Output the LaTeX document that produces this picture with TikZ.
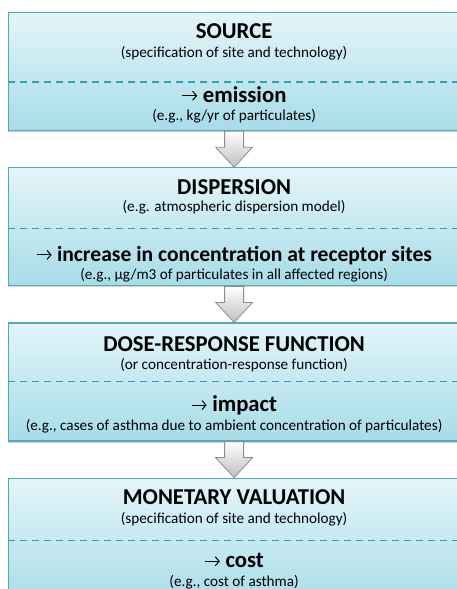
\documentclass[tikz,border=0pt]{standalone}
\usepackage{fontspec}
\setmainfont{Carlito}
\usetikzlibrary{arrows.meta, calc, positioning, shadows}
\definecolor{boxtop}{HTML}{E3F5F9}
\definecolor{boxbot}{HTML}{A7DCE8}
\definecolor{boxline}{HTML}{4AADB7}
\definecolor{dashcol}{HTML}{2FA2B2}
\definecolor{arrline}{HTML}{8E8E8E}
\newcommand{\stagearrow}{\tikz[baseline=0pt]{\draw[line width=1pt,-{Straight Barb[length=4pt,width=9pt,line width=1pt]}] (0pt,6.3pt) -- (15pt,6.3pt);}}
\tikzset{stagebox/.style={rectangle,draw=boxline,line width=1.2pt,top color=boxtop,bottom color=boxbot,minimum width=451pt,minimum height=118pt,inner sep=0pt,drop shadow={shadow xshift=-1pt,shadow yshift=-1.5pt,opacity=.35}},
heading/.style={font=\fontsize{22.7}{26}\selectfont\bfseries,inner sep=0pt,anchor=base},
hint/.style={font=\fontsize{15.2}{18}\selectfont,inner sep=0pt,anchor=base},
divider/.style={draw=dashcol,line width=1.3pt,dash pattern=on 7pt off 5pt},
fat/.style={draw=arrline,line width=.8pt,top color=white,bottom color=black!25}}

\begin{document}
\begin{tikzpicture}[x=1pt,y=1pt,node distance=36pt]
\useasboundingbox (0,0) rectangle (457,-589);
\clip (0,0) rectangle (457,-589);
\node[stagebox, anchor=north west] (src) at (8,-12) {};
\node[stagebox, below=of src] (disp) {};
\node[stagebox, below=of disp] (dose) {};
\node[stagebox, below=of dose, minimum height=130pt] (money) {};

\node[heading] (srct) at ([yshift=-26pt]src.north) {SOURCE};
\node[hint] (srcs) at ([yshift=-45pt]src.north) {(specification of site and technology)};
\draw[divider] ([yshift=-70pt]src.north west) -- ([yshift=-70pt]src.north east);
\node[heading] (srco) at ([yshift=-90pt]src.north) {\stagearrow{} emission};
\node[hint] (srce) at ([yshift=-108pt]src.north) {(e.g., kg/yr of particulates)};

\node[heading] (dispt) at ([yshift=-27pt]disp.north) {DISPERSION};
\node[hint] (disps) at ([yshift=-44pt]disp.north) {(e.g. atmospheric dispersion model)};
\draw[divider] ([yshift=-61pt]disp.north west) -- ([yshift=-61pt]disp.north east);
\node[heading, font=\fontsize{21.6}{25}\selectfont\bfseries] (dispo) at ([yshift=-94pt]disp.north) {\stagearrow{} increase in concentration at receptor sites};
\node[hint] (dispe) at ([yshift=-112pt]disp.north) {(e.g., µg/m3 of particulates in all affected regions)};

\node[heading] (doset) at ([yshift=-29pt]dose.north) {DOSE-RESPONSE FUNCTION};
\node[hint] (doses) at ([yshift=-47pt]dose.north) {(or concentration-response function)};
\draw[divider] ([yshift=-59pt]dose.north west) -- ([yshift=-59pt]dose.north east);
\node[heading] (doseo) at ([yshift=-89pt]dose.north) {\stagearrow{} impact};
\node[hint] (dosee) at ([yshift=-108pt]dose.north) {(e.g., cases of asthma due to ambient concentration of particulates)};

\node[heading] (moneyt) at ([yshift=-27pt]money.north) {MONETARY VALUATION};
\node[hint] (moneys) at ([yshift=-46pt]money.north) {(specification of site and technology)};
\draw[divider] ([yshift=-63pt]money.north west) -- ([yshift=-63pt]money.north east);
\node[heading] (moneyo) at ([yshift=-90pt]money.north) {\stagearrow{} cost};
\node[hint] (moneye) at ([yshift=-109pt]money.north) {(e.g., cost of asthma)};

\draw[fat] ($(src.south)+(-9.5,0)$) -- ++(19,0) -- ++(0,-16) -- ++(9,0) -- (disp.north) -- ++(-18.5,20) -- ++(9,0) -- cycle;
\draw[fat] ($(disp.south)+(-9.5,0)$) -- ++(19,0) -- ++(0,-16) -- ++(9,0) -- (dose.north) -- ++(-18.5,20) -- ++(9,0) -- cycle;
\draw[fat] ($(dose.south)+(-9.5,0)$) -- ++(19,0) -- ++(0,-16) -- ++(9,0) -- (money.north) -- ++(-18.5,20) -- ++(9,0) -- cycle;
\end{tikzpicture}
\end{document}
